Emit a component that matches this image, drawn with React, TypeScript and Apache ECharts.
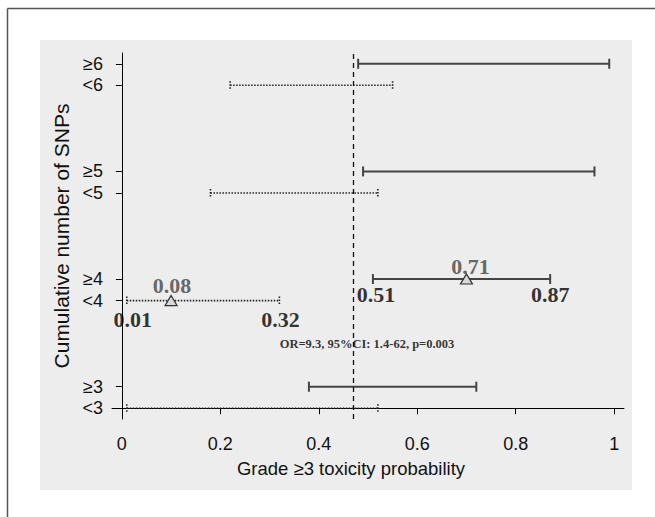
import React, { useEffect, useRef } from "react";
import * as echarts from "echarts";

// ---- data ----
const groups = ["3", "4", "5", "6"];
const lowerLow = [0.01, 0.01, 0.18, 0.22];
const lowerHigh = [0.52, 0.32, 0.52, 0.55];
const upperLow = [0.38, 0.51, 0.49, 0.48];
const upperHigh = [0.72, 0.87, 0.96, 0.99];
const refLine = 0.47;
const xTickValues = [0, 0.2, 0.4, 0.6, 0.8, 1];
const xTickLabels = ["0", "0.2", "0.4", "0.6", "0.8", "1"];
// highlighted group (≥4 / <4) point estimates and annotations
const markerGroup = "4";
const markerLower = 0.1;
const markerUpper = 0.7;
const lowerTexts = ["0.08", "0.01", "0.32"];
const upperTexts = ["0.71", "0.51", "0.87"];
const orText = "OR=9.3, 95%CI: 1.4-62, p=0.003";

const SERIF = '"Liberation Serif", "Times New Roman", serif';
const SANS = '"Liberation Sans", Arial, Helvetica, sans-serif';

export default function App() {
  const ref = useRef<HTMLDivElement>(null);
  useEffect(() => {
    if (!ref.current) return;
    const chart = echarts.init(ref.current, null, { renderer: "svg" });

    // slots: <g, ≥g, then 3 blank spacer slots between groups
    const categories: string[] = [];
    const lowIdx: number[] = [];
    const upIdx: number[] = [];
    groups.forEach((g, i) => {
      lowIdx.push(categories.length);
      categories.push("<" + g);
      upIdx.push(categories.length);
      categories.push("≥" + g);
      if (i < groups.length - 1) categories.push("", "", "");
    });
    const labeledIdx = categories.map((c, i) => (c ? i : -1)).filter((i) => i >= 0);

    const barData: any[] = [];
    groups.forEach((g, i) => {
      barData.push([lowerLow[i], lowerHigh[i], lowIdx[i], 1]);
      barData.push([upperLow[i], upperHigh[i], upIdx[i], 0]);
    });

    const gi = groups.indexOf(markerGroup);
    const li = lowIdx[gi];
    const ui = upIdx[gi];

    const boldText = (color: string, size: number) => ({
      fontFamily: SERIF,
      fontWeight: "bold",
      fontSize: size,
      color,
    });

    const annData = [
      { value: [markerLower, li], label: { formatter: lowerTexts[0], offset: [1, -15], ...boldText("#444", 22) } },
      { value: [lowerLow[gi], li], label: { formatter: lowerTexts[1], offset: [6, 19], ...boldText("#000", 22) } },
      { value: [lowerHigh[gi], li], label: { formatter: lowerTexts[2], offset: [1, 19], ...boldText("#000", 22) } },
      { value: [markerUpper, ui], label: { formatter: upperTexts[0], offset: [4, -13], ...boldText("#444", 22) } },
      { value: [upperLow[gi], ui], label: { formatter: upperTexts[1], offset: [3, 15], ...boldText("#000", 22) } },
      { value: [upperHigh[gi], ui], label: { formatter: upperTexts[2], offset: [0, 15], ...boldText("#000", 22) } },
      { value: [0.5, li - 2], label: { formatter: orText, offset: [-1, 0], ...boldText("#000", 12.5) } },
    ];

    chart.setOption({
      animation: false,
      grid: { left: 112, right: 31, top: 53, bottom: 98, containLabel: false },
      graphic: [
        { type: "rect", z: -100, shape: { x: 40, y: 40, width: 592, height: 450 }, style: { fill: "#ededed" } },
        { type: "line", z: 10, shape: { x1: 7.5, y1: 8.5, x2: 655, y2: 8.5 }, style: { stroke: "#555", lineWidth: 1.5 } },
        { type: "line", z: 10, shape: { x1: 7.5, y1: 8.5, x2: 7.5, y2: 517 }, style: { stroke: "#555", lineWidth: 1.5 } },
        {
          type: "text", z: 10, x: 351, y: 468,
          style: { text: "Grade ≥3 toxicity probability", fontFamily: SANS, fontSize: 18.5, fill: "#111", align: "center", verticalAlign: "middle" },
        },
        {
          type: "text", z: 10, x: 61, y: 236, rotation: Math.PI / 2,
          style: { text: "Cumulative number of SNPs", fontFamily: SANS, fontSize: 21, fill: "#111", align: "center", verticalAlign: "middle" },
        },
      ],
      xAxis: {
        type: "value",
        min: -0.02,
        max: 1.02,
        splitLine: { show: false },
        axisLine: { show: true, lineStyle: { color: "#000", width: 1 } },
        axisTick: { show: true, length: 6, customValues: xTickValues, lineStyle: { color: "#000" } },
        axisLabel: {
          customValues: xTickValues,
          formatter: (v: number) => {
            const k = xTickValues.findIndex((t) => Math.abs(t - v) < 1e-9);
            return k >= 0 ? xTickLabels[k] : "";
          },
          fontFamily: SANS,
          fontSize: 18,
          color: "#111",
          margin: 16,
        },
      },
      yAxis: {
        type: "value",
        min: -0.5,
        max: categories.length - 0.5,
        splitLine: { show: false },
        axisLine: { show: true, lineStyle: { color: "#000", width: 1 } },
        axisTick: { show: true, length: 6, customValues: labeledIdx, lineStyle: { color: "#000" } },
        axisLabel: {
          customValues: labeledIdx,
          formatter: (v: number) => categories[Math.round(v)] ?? "",
          fontFamily: SANS,
          fontSize: 18,
          color: "#111",
          margin: 9,
        },
      },
      series: [
        {
          type: "custom",
          data: barData,
          encode: { x: [0, 1], y: 2 },
          renderItem: (params: any, api: any) => {
            const lo = api.value(0);
            const hi = api.value(1);
            const cat = api.value(2);
            const dotted = api.value(3) === 1;
            const p1 = api.coord([lo, cat]);
            const p2 = api.coord([hi, cat]);
            const h = dotted ? 4 : 5;
            const style = dotted
              ? { stroke: "#222", lineWidth: 1.6, lineDash: [1.5, 1.5] }
              : { stroke: "#444", lineWidth: 2 };
            return {
              type: "group",
              children: [
                { type: "line", shape: { x1: p1[0], y1: p1[1], x2: p2[0], y2: p2[1] }, style },
                { type: "line", shape: { x1: p1[0], y1: p1[1] - h, x2: p1[0], y2: p1[1] + h }, style },
                { type: "line", shape: { x1: p2[0], y1: p2[1] - h, x2: p2[0], y2: p2[1] + h }, style },
              ],
            };
          },
          markLine: {
            silent: true,
            symbol: ["none", "none"],
            label: { show: false },
            lineStyle: { color: "#111", width: 1.3, type: [5, 4] },
            data: [{ xAxis: refLine }],
          },
          z: 3,
        },
        {
          type: "scatter",
          symbol: "triangle",
          symbolSize: [12, 10],
          itemStyle: { color: "#d9d9d9", borderColor: "#333", borderWidth: 1.2, opacity: 1 },
          data: [
            [markerLower, li],
            [markerUpper, ui],
          ],
          z: 5,
        },
        {
          type: "scatter",
          symbolSize: 0,
          silent: true,
          label: { show: true, position: "inside", align: "center", verticalAlign: "middle" },
          data: annData,
          z: 6,
        },
      ],
    });
    return () => chart.dispose();
  }, []);
  return <div ref={ref} style={{ position: "absolute", left: 0, top: 0, width: 655, height: 517 }} />;
}
